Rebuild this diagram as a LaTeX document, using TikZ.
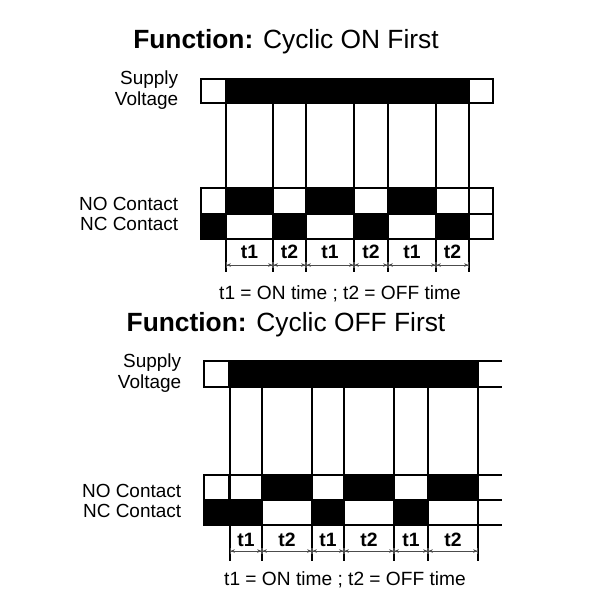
\documentclass[tikz,border=0pt]{standalone}
\usepackage{fontspec}
\setmainfont{Liberation Sans}
\usetikzlibrary{arrows.meta}
\tikzset{
  hi/.style={fill=black},
  lo/.style={fill=white},
  lbl/.style={anchor=east, inner sep=0pt, font=\fontsize{10.8}{11.5}\selectfont, align=right},
  tlbl/.style={inner sep=0pt, font=\fontsize{11}{12}\selectfont\bfseries},
  span/.style={{Bar[width=3pt]Stealth[length=2.5pt,width=2pt]}-{Stealth[length=2.5pt,width=2pt]Bar[width=3pt]}, line width=0.3pt, gray!60!black},
}
\begin{document}
\begin{tikzpicture}[x=0.02cm, y=-0.02cm, line width=0.9pt]

        \useasboundingbox (0,0) rectangle (600,600);

        % ===== Cyclic ON First =====
        \node[inner sep=0pt, font=\fontsize{15}{17}\selectfont] (title1) at (286,42) {\textbf{Function:} Cyclic ON First};

        \node[lbl] (sv1) at (179,90) {Supply\\Voltage};
        \node[lbl] (no1) at (179,204) {NO Contact};
        \node[lbl] (nc1) at (179,224) {NC Contact};

        % Supply Voltage
        \draw[lo] (201,79) rectangle (226,103);
        \draw[hi] (226,79) rectangle (469,103);
        \draw[lo] (469,79) rectangle (493,103);

        % NO Contact
        \foreach \a/\b/\s in {201/226/lo,226/273/hi,273/306/lo,306/354/hi,354/388/lo,388/436/hi,436/469/lo,469/493/lo}
          \draw[\s] (\a,188) rectangle (\b,214);
        % NC Contact
        \foreach \a/\b/\s in {201/226/hi,226/273/lo,273/306/hi,306/354/lo,354/388/hi,388/436/lo,436/469/hi,469/493/lo}
          \draw[\s] (\a,214) rectangle (\b,239);

        % Time lines
        \foreach \x in {226,273,306,354,388,436,469} {
          \draw (\x,103) -- (\x,188);
          \draw (\x,239) -- (\x,272);
        }
        \foreach \a/\b/\t in {226/273/t1,273/306/t2,306/354/t1,354/388/t2,388/436/t1,436/469/t2} {
          \node[tlbl] at ({(\a+\b)/2},252) {\t};
          \draw[span] (\a,265) -- (\b,265);
        }

        \node[inner sep=0pt, font=\fontsize{10.9}{12}\selectfont] (cap1) at (340,294) {t1 = ON time ; t2 = OFF time};

        % ===== Cyclic OFF First =====
        \node[inner sep=0pt, font=\fontsize{15}{17}\selectfont] (title2) at (286,325) {\textbf{Function:} Cyclic OFF First};

        \node[lbl] (sv2) at (182,373) {Supply\\Voltage};
        \node[lbl] (no2) at (182,491) {NO Contact};
        \node[lbl] (nc2) at (182,511) {NC Contact};

        % Supply Voltage
        \draw[lo] (204,361) rectangle (229,387);
        \draw[hi] (229,361) rectangle (478,387);
        \draw (478,361) -- (502,361) (478,387) -- (502,387);

        % NO Contact
        \foreach \a/\b/\s in {204/229/lo,230/262/lo,262/312/hi,312/344/lo,344/394/hi,394/428/lo,428/478/hi}
          \draw[\s] (\a,475) rectangle (\b,500);
        % NC Contact
        \foreach \a/\b/\s in {204/262/hi,262/312/lo,312/344/hi,344/394/lo,394/428/hi,428/478/lo}
          \draw[\s] (\a,500) rectangle (\b,525);
        \draw (478,475) -- (502,475) (478,500) -- (502,500) (478,525) -- (502,525);

        % Time lines
        \foreach \x in {230,262,312,344,394,428,478} {
          \draw (\x,387) -- (\x,475);
          \draw (\x,525) -- (\x,561);
        }
        \foreach \a/\b/\t in {230/262/t1,262/312/t2,312/344/t1,344/394/t2,394/428/t1,428/478/t2} {
          \node[tlbl] at ({(\a+\b)/2},540) {\t};
          \draw[span] (\a,551) -- (\b,551);
        }

        \node[inner sep=0pt, font=\fontsize{10.9}{12}\selectfont] (cap2) at (345,580) {t1 = ON time ; t2 = OFF time};

\end{tikzpicture}
\end{document}
